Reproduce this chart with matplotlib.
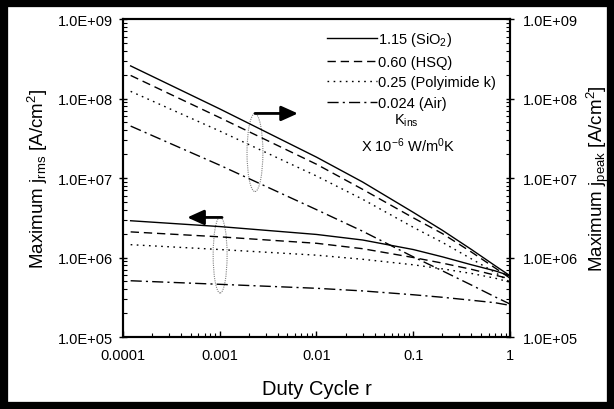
import matplotlib
matplotlib.use("Agg")
import matplotlib.pyplot as plt
from matplotlib.patches import Ellipse, Rectangle
from matplotlib.ticker import FuncFormatter, LogLocator, NullFormatter

plt.rcParams['font.family'] = ['Liberation Sans', 'DejaVu Sans']
plt.rcParams['mathtext.fontset'] = 'custom'
plt.rcParams['mathtext.rm'] = 'Liberation Sans'
plt.rcParams['mathtext.it'] = 'Liberation Sans:italic'

# duty cycle values
r = [1.2e-4, 1e-3, 1e-2, 0.03, 0.1, 0.2, 0.4, 0.7, 1.0]

# maximum j_peak (upper group, right axis)
peak_sio2 = [2.57e8, 7.4e7, 1.83e7, 8.9e6, 3.7e6, 2.2e6, 1.26e6, 7.9e5, 5.9e5]
peak_hsq = [1.95e8, 5.75e7, 1.49e7, 7.2e6, 3.16e6, 2.0e6, 1.17e6, 7.4e5, 5.5e5]
peak_poly = [1.23e8, 3.9e7, 1.06e7, 5.4e6, 2.4e6, 1.55e6, 9.6e5, 6.5e5, 4.9e5]
peak_air = [4.5e7, 1.45e7, 4.0e6, 2.14e6, 1.02e6, 6.8e5, 4.5e5, 3.2e5, 2.6e5]

# maximum j_rms (lower group, left axis)
rms_sio2 = [2.9e6, 2.45e6, 1.95e6, 1.66e6, 1.26e6, 1.02e6, 8.1e5, 6.8e5, 5.9e5]
rms_hsq = [2.1e6, 1.82e6, 1.51e6, 1.29e6, 1.0e6, 8.5e5, 7.1e5, 6.0e5, 5.4e5]
rms_poly = [1.45e6, 1.26e6, 1.07e6, 9.5e5, 8.1e5, 7.2e5, 6.3e5, 5.5e5, 4.9e5]
rms_air = [5.1e5, 4.6e5, 4.1e5, 3.8e5, 3.4e5, 3.16e5, 2.9e5, 2.7e5, 2.5e5]

labels = ['1.15 (SiO$_2$)', '0.60 (HSQ)', '0.25 (Polyimide k)', '0.024 (Air)']
styles = ['-', (0, (6, 3.5)), (0, (1.2, 3.2)), (0, (8, 3, 1.5, 3))]

fig = plt.figure(figsize=(6.14, 4.10), dpi=100)
ax = fig.add_axes([0.2003, 0.1756, 0.6303, 0.7756])

peaks = [peak_sio2, peak_hsq, peak_poly, peak_air]
rmss = [rms_sio2, rms_hsq, rms_poly, rms_air]
for lab, ls, pk, rm in zip(labels, styles, peaks, rmss):
    ax.plot(r, pk, color='black', lw=1.0, linestyle=ls, label=lab)
    ax.plot(r, rm, color='black', lw=1.0, linestyle=ls)

ax.set_xscale('log')
ax.set_yscale('log')
ax.set_xlim(1e-4, 1)
ax.set_ylim(1e5, 1e9)

ax.xaxis.set_major_formatter(FuncFormatter(lambda v, p: f"{v:g}"))
ax.yaxis.set_major_formatter(FuncFormatter(lambda v, p: f"{v:.1E}"))
ax.xaxis.set_minor_locator(LogLocator(base=10, subs=range(2, 10)))
ax.yaxis.set_minor_locator(LogLocator(base=10, subs=range(2, 10)))
ax.xaxis.set_minor_formatter(NullFormatter())
ax.yaxis.set_minor_formatter(NullFormatter())
ax.tick_params(which='major', direction='inout', length=6, width=1, labelsize=10.5, pad=4)
ax.tick_params(which='minor', direction='in', length=3, width=0.8)
ax.tick_params(axis='x', which='major', direction='in', length=4, pad=8)

ax2 = ax.twinx()
ax2.set_yscale('log')
ax2.set_ylim(1e5, 1e9)
ax2.yaxis.set_major_formatter(FuncFormatter(lambda v, p: f"{v:.1E}"))
ax2.yaxis.set_minor_locator(LogLocator(base=10, subs=range(2, 10)))
ax2.yaxis.set_minor_formatter(NullFormatter())
ax2.tick_params(which='major', direction='inout', length=6, width=1, labelsize=10.5, pad=6)
ax2.tick_params(which='minor', direction='in', length=3, width=0.8)

for a in (ax, ax2):
    for s in a.spines.values():
        s.set_linewidth(1.5)

ax.set_xlabel('Duty Cycle r', fontsize=14.5, labelpad=12)
ax.set_ylabel('Maximum j$_{\\mathrm{rms}}$ [A/cm$^2$]', fontsize=13.5, labelpad=6)
ax2.set_ylabel('Maximum j$_{\\mathrm{peak}}$ [A/cm$^2$]', fontsize=13.5, labelpad=5)

ax.legend(loc='upper left', bbox_to_anchor=(0.527, 0.965), frameon=False,
          fontsize=10.5, handlelength=3.4, handletextpad=0.1,
          labelspacing=0.45, borderpad=0, borderaxespad=0)

ax.text(0.731, 0.682, 'K$_{\\mathrm{ins}}$', transform=ax.transAxes,
        ha='center', va='center', fontsize=10.5)
ax.text(0.736, 0.604, 'X 10$^{-6}$ W/m$^0$K', transform=ax.transAxes,
        ha='center', va='center', fontsize=10.5)

# grouping ellipses
ax.add_patch(Ellipse((0.341, 0.58), 0.041, 0.245, transform=ax.transAxes,
                     fill=False, edgecolor='gray', lw=0.8, linestyle=(0, (1, 1))))
ax.add_patch(Ellipse((0.251, 0.258), 0.036, 0.239, transform=ax.transAxes,
                     fill=False, edgecolor='gray', lw=0.8, linestyle=(0, (1, 1))))

arrow = dict(arrowstyle='-|>,head_length=1.0,head_width=0.45', color='black',
             lw=2, mutation_scale=10, shrinkA=0, shrinkB=0)
ax.annotate('', xy=(0.452, 0.703), xytext=(0.341, 0.703),
            xycoords='axes fraction', arrowprops=arrow)
ax.annotate('', xy=(0.166, 0.376), xytext=(0.256, 0.376),
            xycoords='axes fraction', arrowprops=arrow)

# black border round the picture
fig.patches.append(Rectangle((0, 0), 1, 1, transform=fig.transFigure, fill=False,
                             edgecolor='black', linewidth=11, zorder=10))

fig.savefig('out.png', dpi=100, facecolor='white')
